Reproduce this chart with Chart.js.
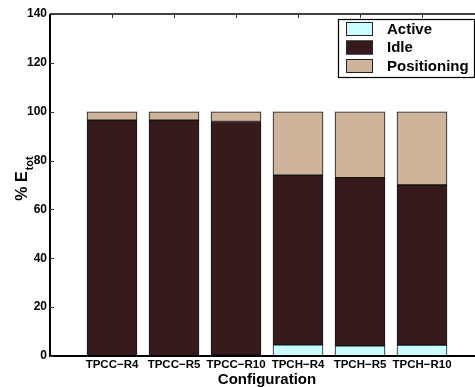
<!DOCTYPE html>
<html>
<head>
<meta charset="utf-8">
<script src="https://cdn.jsdelivr.net/npm/chart.js@4/dist/chart.umd.min.js"></script>
<style>
  html, body { margin: 0; padding: 0; background: #fff; overflow: hidden; }
  #wrap { width: 490px; height: 387px; }
</style>
</head>
<body>
<div id="wrap"><canvas id="c" width="490" height="387"></canvas></div>
<script>
// Energy breakdown per configuration, in percent of total energy
const categories = ['TPCC\u2212R4', 'TPCC\u2212R5', 'TPCC\u2212R10', 'TPCH\u2212R4', 'TPCH\u2212R5', 'TPCH\u2212R10'];
const activeShare = [0, 0, 0.4, 4.6, 4.2, 4.5];
const idleShare = [96.5, 96.5, 95.6, 69.4, 68.8, 65.5];
const positioningShare = [3.5, 3.5, 4.0, 26.0, 27.0, 30.0];
const yTicks = [0, 20, 40, 60, 80, 100, 120, 140];
const seriesNames = ['Active', 'Idle', 'Positioning'];
const seriesColors = ['#c9fdff', '#371a1c', '#cdb49b'];

// One empty slot on each side so the bars sit at 1..6 of a 0..7 axis
const paddedLabels = [''].concat(categories, ['']);
const pad = arr => [null].concat(arr, [null]);

const FONT = "'Liberation Sans', Arial, Helvetica, sans-serif";

const frame = {
  id: 'frame',
  afterDatasetsDraw(chart) {
    const { ctx, chartArea: a, scales: { x, y } } = chart;
    ctx.save();
    ctx.strokeStyle = '#000';
    ctx.lineWidth = 2;
    ctx.beginPath();
    ctx.moveTo(a.left, a.top);
    ctx.lineTo(a.left, a.bottom);
    ctx.lineTo(a.right, a.bottom);
    ctx.stroke();
    ctx.lineWidth = 1.5;
    ctx.beginPath();
    ctx.moveTo(a.left, a.top);
    ctx.lineTo(a.right, a.top);
    ctx.stroke();
    // inward tick marks
    ctx.lineWidth = 1;
    ctx.strokeStyle = '#333';
    ctx.beginPath();
    yTicks.forEach(v => {
      const py = Math.round(y.getPixelForValue(v)) + 0.5;
      ctx.moveTo(a.left, py);
      ctx.lineTo(a.left + 4, py);
    });
    categories.forEach((c, i) => {
      const px = Math.round(x.getPixelForValue(i + 1)) + 0.5;
      ctx.moveTo(px, a.top);
      ctx.lineTo(px, a.top + 4);
    });
    ctx.stroke();
    ctx.restore();
  }
};

const yTitle = {
  id: 'yTitle',
  afterDraw(chart) {
    const { ctx, chartArea: a } = chart;
    ctx.save();
    ctx.translate(27, (a.top + a.bottom) / 2 - 6);
    ctx.rotate(-Math.PI / 2);
    ctx.fillStyle = '#000';
    ctx.textBaseline = 'alphabetic';
    const main = '% E';
    const sub = 'tot';
    ctx.font = 'bold 16px ' + FONT;
    const wMain = ctx.measureText(main).width;
    ctx.font = 'bold 11px ' + FONT;
    const wSub = ctx.measureText(sub).width;
    const start = -(wMain + wSub) / 2;
    ctx.font = 'bold 16px ' + FONT;
    ctx.fillText(main, start, 0);
    ctx.font = 'bold 11px ' + FONT;
    ctx.fillText(sub, start + wMain + 1, 6);
    ctx.restore();
  }
};

const boxLegend = {
  id: 'boxLegend',
  afterDraw(chart) {
    const { ctx } = chart;
    const bx = 338, by = 19, bw = 136, bh = 58;
    ctx.save();
    ctx.fillStyle = '#fff';
    ctx.fillRect(bx, by, bw, bh);
    ctx.strokeStyle = '#000';
    ctx.lineWidth = 1.2;
    ctx.strokeRect(bx + 0.5, by + 0.5, bw, bh);
    ctx.font = 'bold 15px ' + FONT;
    ctx.textBaseline = 'middle';
    chart.data.datasets.forEach((ds, i) => {
      const top = by + 3 + i * 18.5;
      ctx.fillStyle = ds.backgroundColor;
      ctx.fillRect(bx + 8, top, 27, 14);
      ctx.strokeStyle = '#222';
      ctx.lineWidth = 1;
      ctx.strokeRect(bx + 8.5, top + 0.5, 26, 13);
      ctx.fillStyle = '#000';
      ctx.fillText(ds.label, bx + 49, top + 7.5);
    });
    ctx.restore();
  }
};

new Chart(document.getElementById('c'), {
  type: 'bar',
  data: {
    labels: paddedLabels,
    datasets: [
      { label: seriesNames[0], data: pad(activeShare), backgroundColor: seriesColors[0] },
      { label: seriesNames[1], data: pad(idleShare), backgroundColor: seriesColors[1] },
      { label: seriesNames[2], data: pad(positioningShare), backgroundColor: seriesColors[2] }
    ].map(d => Object.assign(d, { borderColor: '#151515', borderWidth: 1, borderSkipped: false, barThickness: 50 }))
  },
  options: {
    responsive: false,
    devicePixelRatio: 1,
    animation: false,
    layout: { autoPadding: false, padding: { top: 14, right: 6, left: 0, bottom: 0 } },
    plugins: { legend: { display: false }, tooltip: { enabled: false } },
    scales: {
      x: {
        stacked: true,
        offset: false,
        grid: { display: false, drawTicks: false },
        border: { display: false },
        ticks: { autoSkip: false, maxRotation: 0, padding: 2, color: '#000', font: { family: FONT, weight: 'bold', size: 11.5 } },
        title: { display: true, text: 'Configuration', color: '#000', padding: { top: 0, bottom: 0 }, font: { family: FONT, weight: 'bold', size: 15, lineHeight: 1 } },
        afterFit(s) { s.height = 31; }
      },
      y: {
        stacked: true,
        min: 0,
        max: 140,
        grid: { display: false, drawTicks: false },
        border: { display: false },
        afterBuildTicks(s) { s.ticks = yTicks.map(v => ({ value: v })); },
        ticks: { padding: 3, color: '#000', font: { family: FONT, weight: 'bold', size: 12 } },
        afterFit(s) { s.width = 50; }
      }
    }
  },
  plugins: [frame, yTitle, boxLegend]
});
</script>
</body>
</html>
